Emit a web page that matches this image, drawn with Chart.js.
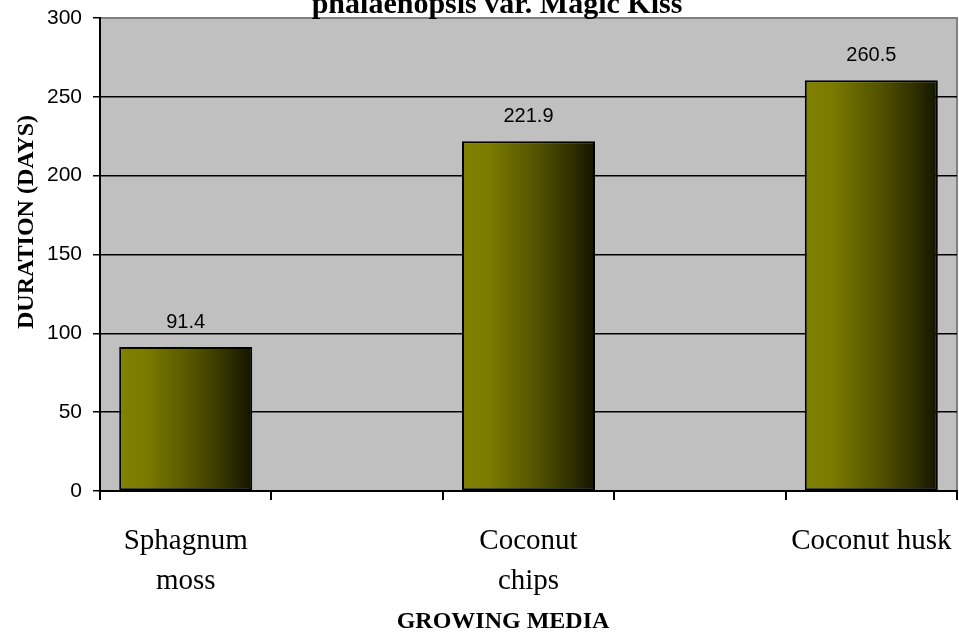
<!DOCTYPE html>
<html>
<head>
<meta charset="utf-8">
<script src="https://cdn.jsdelivr.net/npm/chart.js@4.4.1/dist/chart.umd.min.js"></script>
<style>
  html, body { margin: 0; padding: 0; background: #fff; }
  #wrap { width: 959px; height: 634px; position: relative; }
</style>
</head>
<body>
<div id="wrap"><canvas id="mediaChart" width="959" height="634"></canvas></div>
<script>
// Growing media and time taken (days)
const categories = [['Sphagnum', 'moss'], ['Coconut', 'chips'], ['Coconut husk']];
const durations = [91.4, 221.9, 260.5];
const yTicks = [0, 50, 100, 150, 200, 250, 300];

const chartTitle = 'phalaenopsis var. Magic Kiss';
const xTitle = 'GROWING MEDIA';
const yTitle = 'DURATION (DAYS)';

// each category sits in its own slot with an empty slot between neighbours
const slotLabels = [];
const slotValues = [];
categories.forEach((c, i) => {
  if (i > 0) { slotLabels.push(''); slotValues.push(null); }
  slotLabels.push(c);
  slotValues.push(durations[i]);
});

const BAR_PCT = 0.776;
const SERIF = '"Liberation Serif", "Times New Roman", serif';
const SANS = '"Liberation Sans", Arial, sans-serif';

// olive-to-black horizontal gradient spanning a single bar
function barGradient(context) {
  const chart = context.chart;
  const area = chart.chartArea;
  if (!area) return '#808000';
  const xs = chart.scales.x;
  const slot = (area.right - area.left) / slotLabels.length;
  const cx = xs.getPixelForValue(context.dataIndex);
  const half = slot * BAR_PCT / 2;
  const g = chart.ctx.createLinearGradient(cx - half, 0, cx + half, 0);
  g.addColorStop(0, '#808000');
  g.addColorStop(0.2, '#7b7b00');
  g.addColorStop(0.55, '#545400');
  g.addColorStop(0.8, '#333300');
  g.addColorStop(1, '#141400');
  return g;
}

// grey plot area with a darker frame on the top and right
const plotBackground = {
  id: 'plotBackground',
  beforeDraw(chart) {
    const {ctx, chartArea: a} = chart;
    ctx.save();
    ctx.fillStyle = '#c0c0c0';
    ctx.fillRect(a.left, a.top, a.right - a.left, a.bottom - a.top);
    ctx.strokeStyle = '#808080';
    ctx.lineWidth = 2;
    ctx.beginPath();
    ctx.moveTo(a.left, a.top);
    ctx.lineTo(a.right, a.top);
    ctx.lineTo(a.right, a.bottom);
    ctx.stroke();
    ctx.restore();
  }
};

// value written above each bar
const valueLabels = {
  id: 'valueLabels',
  afterDatasetsDraw(chart) {
    const ctx = chart.ctx;
    const meta = chart.getDatasetMeta(0);
    ctx.save();
    ctx.font = '20px ' + SANS;
    ctx.fillStyle = '#000';
    ctx.textAlign = 'center';
    ctx.textBaseline = 'alphabetic';
    meta.data.forEach((bar, i) => {
      const v = slotValues[i];
      if (v === null) return;
      ctx.fillText(v.toFixed(1), bar.x, bar.y - 19);
    });
    ctx.restore();
  }
};

// chart title and the two axis titles
const titles = {
  id: 'titles',
  afterDraw(chart) {
    const ctx = chart.ctx;
    ctx.save();
    ctx.fillStyle = '#000';
    ctx.textAlign = 'center';
    ctx.textBaseline = 'alphabetic';
    ctx.font = 'bold 30px ' + SERIF;
    ctx.fillText(chartTitle, 497, 13);
    ctx.font = 'bold 24px ' + SERIF;
    ctx.fillText(xTitle, 503, 628);
    ctx.translate(33, 222);
    ctx.rotate(-Math.PI / 2);
    ctx.font = 'bold 24px ' + SERIF;
    ctx.fillText(yTitle, 0, 0);
    ctx.restore();
  }
};

const ctx = document.getElementById('mediaChart').getContext('2d');
new Chart(ctx, {
  type: 'bar',
  data: {
    labels: slotLabels,
    datasets: [{
      data: slotValues,
      backgroundColor: barGradient,
      borderColor: '#000',
      borderWidth: 2,
      borderSkipped: false,
      categoryPercentage: 1,
      barPercentage: BAR_PCT
    }]
  },
  options: {
    responsive: false,
    animation: false,
    layout: { padding: { top: 18, right: 2, left: 0, bottom: 0 } },
    plugins: {
      legend: { display: false },
      tooltip: { enabled: false },
      title: { display: false }
    },
    scales: {
      x: {
        afterFit(scale) {
          scale.height = 143;
          scale.paddingLeft = 0;
          scale.paddingRight = 0;
        },
        grid: {
          offset: true,
          drawOnChartArea: false,
          color: '#000',
          lineWidth: 2,
          tickLength: 9
        },
        border: { color: '#000', width: 2 },
        ticks: {
          color: '#000',
          padding: 21,
          maxRotation: 0,
          autoSkip: false,
          font: { family: SERIF, size: 29, lineHeight: 1.38 }
        }
      },
      y: {
        min: 0,
        max: 300,
        afterFit(scale) {
          scale.width = 100;
          scale.paddingTop = 0;
          scale.paddingBottom = 0;
        },
        afterBuildTicks(scale) { scale.ticks = yTicks.map(v => ({ value: v })); },
        grid: {
          color: c => (c.tick && c.tick.value === 300 ? '#808080' : '#000'),
          lineWidth: 1.5,
          tickLength: 7,
          tickColor: '#000'
        },
        border: { color: '#000', width: 2 },
        ticks: {
          color: '#000',
          padding: 11,
          font: { family: SANS, size: 21 }
        }
      }
    }
  },
  plugins: [plotBackground, valueLabels, titles]
});
</script>
</body>
</html>
